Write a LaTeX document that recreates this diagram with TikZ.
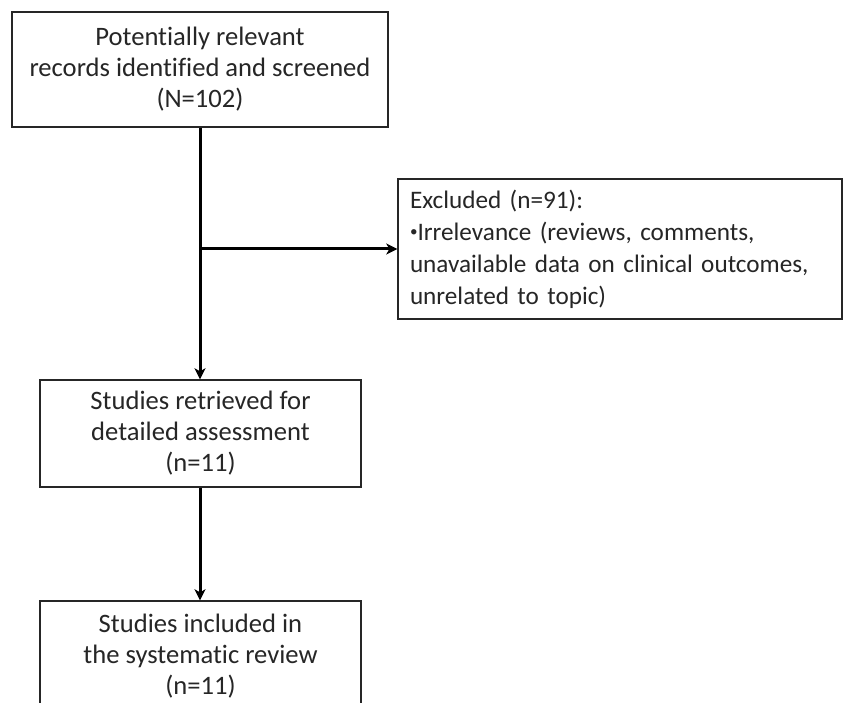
\documentclass[tikz,border=0pt]{standalone}
\usepackage{fontspec}
\setmainfont[Ligatures=NoCommon]{Carlito}
\usetikzlibrary{arrows.meta}
\begin{document}
\begin{tikzpicture}[x=1pt,y=-1pt,
  box/.style={draw=black!85, line width=1.4pt, rectangle, inner sep=0pt, align=center,
    font=\fontsize{26.6}{31}\selectfont, text=black!85},
  conn/.style={line width=3pt, draw=black, -{Stealth[length=11pt,width=11pt,inset=3pt]}}]
\clip (0,0) rectangle (843,703);
\fill[white] (0,0) rectangle (843,703);
\node[box, minimum width=376pt, minimum height=115pt] (top) at (200,69.5)
  {Potentially relevant\\records identified and screened\\(N=102)};
\node[box, minimum width=444pt, minimum height=140pt, text width=420pt, align=left,
  font=\fontsize{25.2}{32}\selectfont] (excl) at (620,249)
  {Excluded (n=91):\\\raisebox{0.14em}{\scalebox{0.6}{\textbullet}}Irrelevance (reviews, comments,\\unavailable data on clinical outcomes,\\unrelated to topic)};
\node[box, minimum width=321pt, minimum height=107pt] (mid) at (200.5,433.5)
  {Studies retrieved for\\detailed assessment\\(n=11)};
\node[box, minimum width=321pt, minimum height=110pt] (inc) at (200.5,656)
  {Studies included in\\the systematic review\\(n=11)};
\coordinate (br) at (top.south |- excl.west);
\draw[conn] (top.south) -- (top.south |- mid.north);
\draw[conn] (br) -- (excl.west);
\draw[conn] (mid.south -| top.south) -- (inc.north -| top.south);
\end{tikzpicture}
\end{document}
